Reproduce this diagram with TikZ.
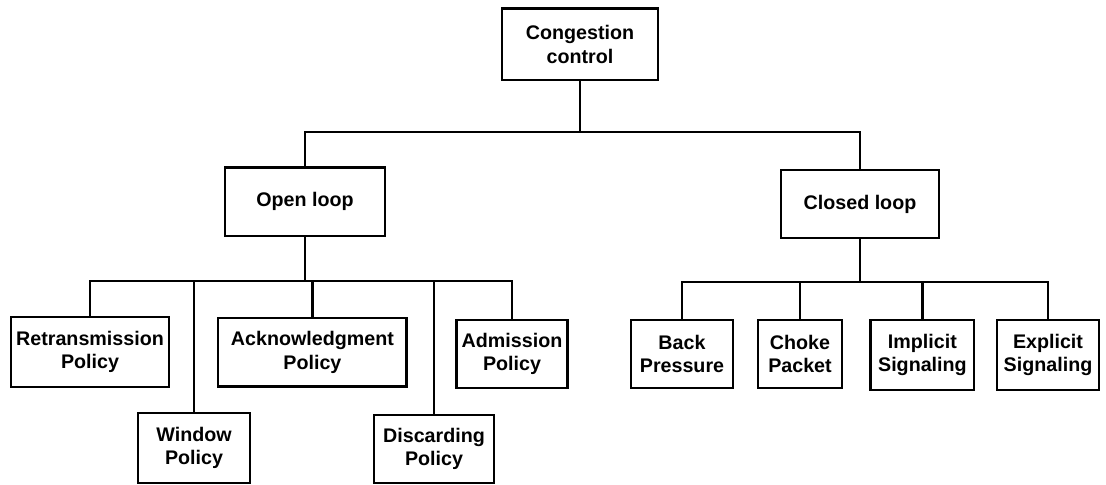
\documentclass[tikz,border=0pt]{standalone}
\usepackage{fontspec}
\setmainfont{Liberation Sans}

\begin{document}
\begin{tikzpicture}[
  boite/.style={draw, line width=2pt, align=center, inner sep=2pt,
    font=\bfseries\fontsize{14}{16.5}\selectfont},
  trait/.style={line width=2pt}]
\useasboundingbox (0,0) rectangle (27.65,-12.125);

%racine
\node[boite, minimum width=3.9cm, minimum height=1.78cm] (cc) at (14.5,-1.11) {Congestion\\control};

%deux branches
\node[boite, minimum width=4cm, minimum height=1.72cm] (open) at (7.625,-5.04) {Open loop};
\node[boite, minimum width=3.95cm, minimum height=1.7cm] (closed) at (21.5,-5.1) {Closed loop};

%boucle ouverte
\node[boite, minimum width=3.95cm, minimum height=1.75cm] (retr) at (2.25,-8.8) {Retransmission\\Policy};
\node[boite, minimum width=2.8cm, minimum height=1.75cm] (window) at (4.85,-11.2) {Window\\Policy};
\node[boite, minimum width=4.72cm, minimum height=1.72cm] (ack) at (7.81,-8.81) {Acknowledgment\\Policy};
\node[boite, minimum width=3cm, minimum height=1.7cm] (disc) at (10.85,-11.225) {Discarding\\Policy};
\node[boite, minimum width=2.78cm, minimum height=1.7cm] (adm) at (12.8,-8.85) {Admission\\Policy};

%boucle fermee
\node[boite, minimum width=2.55cm, minimum height=1.7cm] (back) at (17.05,-8.85) {Back\\Pressure};
\node[boite, minimum width=2.1cm, minimum height=1.7cm] (choke) at (20.0,-8.85) {Choke\\Packet};
\node[boite, minimum width=2.58cm, minimum height=1.75cm] (impl) at (23.06,-8.875) {Implicit\\Signaling};
\node[boite, minimum width=2.55cm, minimum height=1.75cm] (expl) at (26.2,-8.875) {Explicit\\Signaling};

%barres horizontales
\coordinate (bustop) at (14.5,-3.3);
\coordinate (busopen) at (7.625,-7.025);
\coordinate (busclosed) at (21.5,-7.05);

\draw[trait] (cc) -- (bustop);
\draw[trait] (open.north) |- (bustop) -| (closed.north);

\draw[trait] (open) -- (busopen);
\foreach \n in {retr,window,ack,disc,adm}
  \draw[trait] (busopen) -| (\n.north);

\draw[trait] (closed) -- (busclosed);
\foreach \n in {back,choke,impl,expl}
  \draw[trait] (busclosed) -| (\n.north);

\end{tikzpicture}
\end{document}
